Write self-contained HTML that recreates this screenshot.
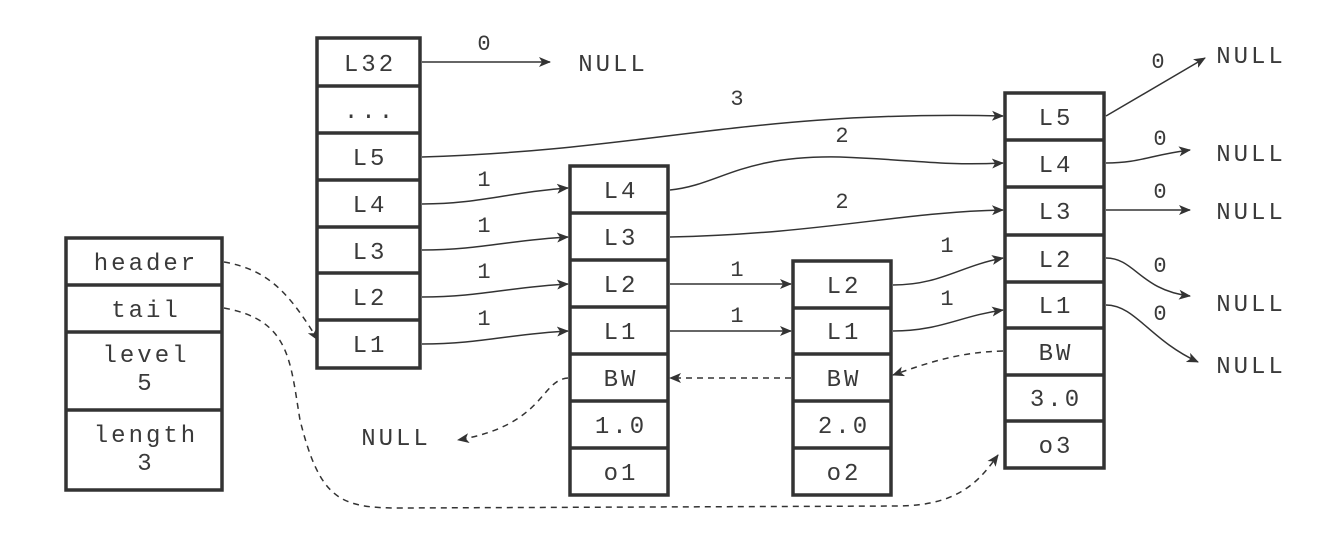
<!DOCTYPE html>
<html><head><meta charset="utf-8"><style>
html,body{margin:0;padding:0;background:#fff;width:1342px;height:537px;overflow:hidden}
svg text{font-family:"Liberation Mono",monospace;fill:#3a3a3a}
</style></head><body>
<svg width="1342" height="537" viewBox="0 0 1342 537" xmlns="http://www.w3.org/2000/svg">
<defs>
<marker id="a" viewBox="0 0 12 10" refX="11" refY="5" markerWidth="12" markerHeight="10" markerUnits="userSpaceOnUse" orient="auto"><path d="M0,0 L12,5 L0,10 L3,5 z" fill="#333"/></marker>
</defs>
<g fill="none" stroke="#333" stroke-width="3.5">
<rect x="66" y="238" width="156" height="252"/>
<path d="M66,285H222M66,332H222M66,410H222"/>
<rect x="317" y="38" width="103" height="330"/>
<path d="M317,86H420M317,133H420M317,180H420M317,227H420M317,273H420M317,320H420"/>
<rect x="570" y="166" width="98" height="329"/>
<path d="M570,213H668M570,260H668M570,307H668M570,354H668M570,401H668M570,448H668"/>
<rect x="793" y="261" width="98" height="234"/>
<path d="M793,308H891M793,354H891M793,401H891M793,448H891"/>
<rect x="1005" y="93" width="99" height="375"/>
<path d="M1005,140H1104M1005,187H1104M1005,235H1104M1005,282H1104M1005,328H1104M1005,375H1104M1005,421H1104"/>
</g>
<g font-size="24" letter-spacing="3" text-anchor="middle">
<text x="146" y="270">header</text><text x="146" y="317">tail</text>
<text x="146" y="362">level</text><text x="146" y="390">5</text>
<text x="146" y="442">length</text><text x="146" y="470">3</text>
<text x="370" y="71">L32</text><text x="370" y="118">...</text><text x="370" y="165">L5</text>
<text x="370" y="212">L4</text><text x="370" y="259">L3</text><text x="370" y="305">L2</text><text x="370" y="352">L1</text>
<text x="621" y="198">L4</text><text x="621" y="245">L3</text><text x="621" y="292">L2</text><text x="621" y="339">L1</text>
<text x="621" y="386">BW</text><text x="621" y="433">1.0</text><text x="621" y="480">o1</text>
<text x="844" y="293">L2</text><text x="844" y="339">L1</text><text x="844" y="386">BW</text>
<text x="844" y="433">2.0</text><text x="844" y="480">o2</text>
<text x="1056" y="125">L5</text><text x="1056" y="172">L4</text><text x="1056" y="219">L3</text>
<text x="1056" y="267">L2</text><text x="1056" y="313">L1</text><text x="1056" y="360">BW</text>
<text x="1056" y="406">3.0</text><text x="1056" y="453">o3</text>
<text x="613" y="71">NULL</text><text x="396" y="445">NULL</text>
<text x="1251" y="63">NULL</text><text x="1251" y="161">NULL</text><text x="1251" y="219">NULL</text>
<text x="1251" y="311">NULL</text><text x="1251" y="373">NULL</text>
</g>
<g font-size="22" text-anchor="middle">
<text x="484" y="50">0</text><text x="737" y="105">3</text>
<text x="484" y="186">1</text><text x="484" y="232">1</text><text x="484" y="278">1</text><text x="484" y="325">1</text>
<text x="842" y="142">2</text><text x="842" y="208">2</text>
<text x="737" y="276">1</text><text x="737" y="322">1</text>
<text x="947" y="252">1</text><text x="947" y="305">1</text>
<text x="1158" y="68">0</text><text x="1160" y="145">0</text><text x="1160" y="198">0</text>
<text x="1160" y="272">0</text><text x="1160" y="320">0</text>
</g>
<g fill="none" stroke="#333" stroke-width="1.5" marker-end="url(#a)">
<path d="M422,62H550"/>
<path d="M422,157C650,150 750,110 1003,116"/>
<path d="M422,204C480,204 510,192 568,188"/>
<path d="M422,250C480,250 510,240 568,237"/>
<path d="M422,297C480,297 510,287 568,284"/>
<path d="M422,344C480,344 510,334 568,331"/>
<path d="M670,190C720,185 740,155 840,157 C920,160 940,166 1003,163"/>
<path d="M670,237C820,234 900,212 1003,210"/>
<path d="M670,284H791"/>
<path d="M670,331H791"/>
<path d="M893,285C940,285 960,266 1003,258"/>
<path d="M893,331C940,331 960,316 1003,310"/>
<path d="M1106,116L1205,58"/>
<path d="M1106,163C1140,163 1150,155 1190,150"/>
<path d="M1106,210H1190"/>
<path d="M1106,258C1135,258 1140,290 1190,296"/>
<path d="M1106,305C1135,305 1150,340 1198,362"/>
</g>
<g fill="none" stroke="#333" stroke-width="1.5" stroke-dasharray="6,5" marker-end="url(#a)">
<path d="M1003,351C960,352 930,362 893,375"/>
<path d="M791,378H670"/>
<path d="M568,378C540,380 545,425 458,440"/>
<path d="M224,262C270,270 290,295 318,340"/>
<path d="M224,308C290,320 290,360 300,420 C320,500 340,508 400,508 L900,506 C960,505 980,480 998,455"/>
</g>
</svg>
</body></html>
